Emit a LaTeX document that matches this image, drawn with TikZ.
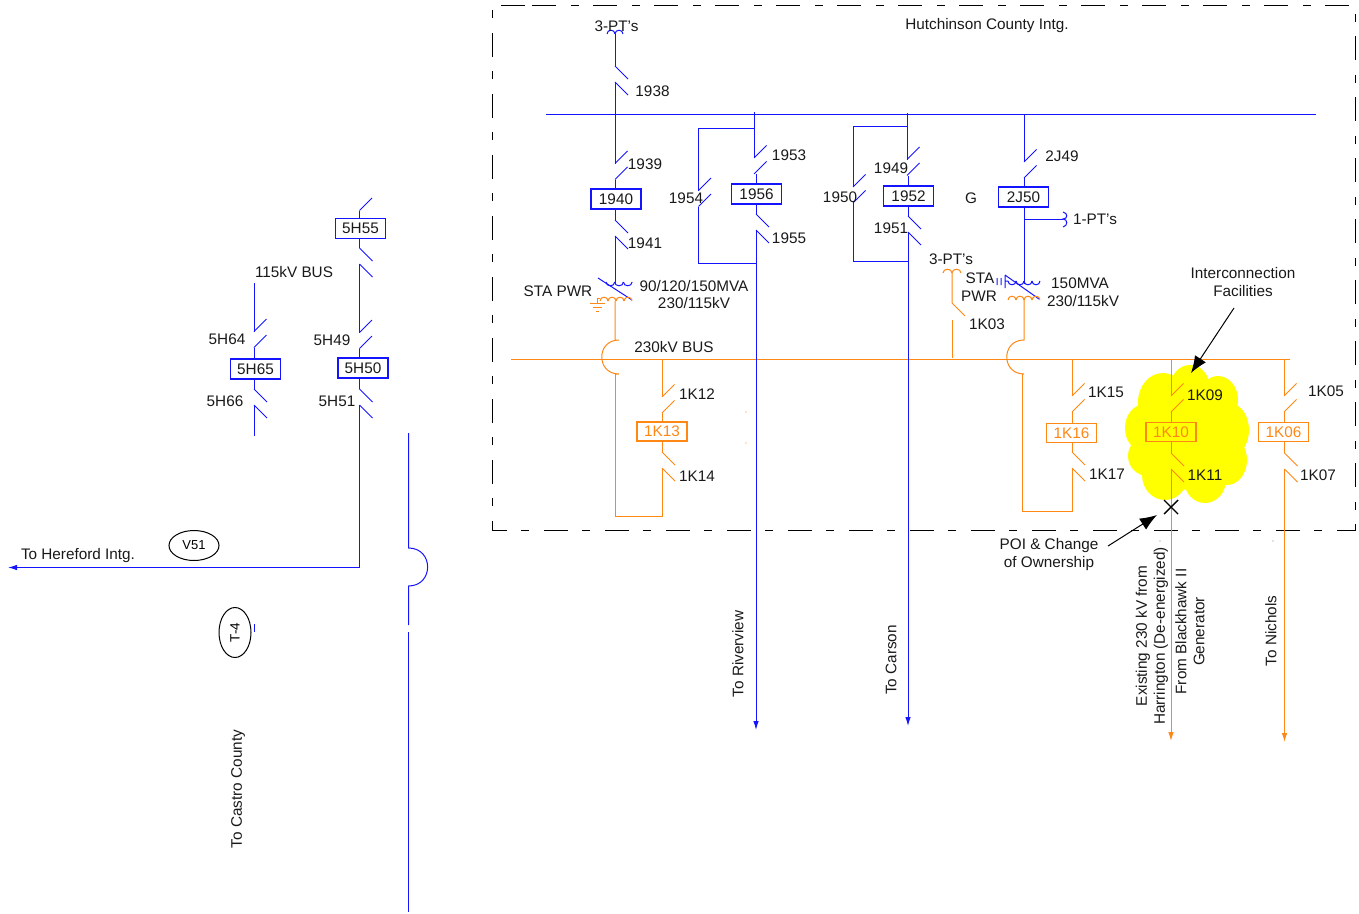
\documentclass[tikz,border=0pt]{standalone}
\usepackage{fontspec}
\setmainfont{Liberation Sans}
\usetikzlibrary{arrows.meta,shapes.geometric}
\definecolor{bl}{RGB}{20,20,255}
\definecolor{og}{RGB}{255,135,20}
\definecolor{yel}{RGB}{255,255,0}
\tikzset{
  bline/.style={draw=bl,line width=1pt},
  oline/.style={draw=og,line width=1pt},
  lbl/.style={inner sep=0pt,font=\fontsize{15.3}{17}\selectfont,text=black!90},
  bbox/.style={draw=bl,line width=1.1pt,minimum width=50pt,minimum height=20pt,inner sep=0pt,font=\fontsize{15.3}{17}\selectfont,text=black!90},
  obox/.style={draw=og,line width=1.1pt,minimum width=50pt,minimum height=19pt,inner sep=0pt,font=\fontsize{15.3}{17}\selectfont,text=og},
  barr/.style={-{Latex[length=9pt,width=5.5pt]}},
  karr/.style={draw=black,line width=1pt,-{Latex[length=17pt,width=13pt]}},
  ell/.style={draw=black,line width=1pt,ellipse,inner sep=0pt},
}
\newcommand{\swdown}[4]{\draw[#1] (#2,#3)--++(13,13);\draw[#1] (#2,#3+16)--++(13,13);\coordinate (#4) at (#2,#3+16);}
\newcommand{\swup}[4]{\draw[#1] (#2,#3)--++(12.5,-12.5);\draw[#1] (#2,#3+16)--++(12.5,-12.5);\coordinate (#4) at (#2,#3+16);}
\newcommand{\bumpsup}[5]{\foreach \i in {1,...,#4}{\draw[#1] (#2+\i*#5-#5,#3) .. controls (#2+\i*#5-#5,#3-5) and (#2+\i*#5,#3-5) .. (#2+\i*#5,#3);}}
\newcommand{\bumpsdown}[5]{\foreach \i in {1,...,#4}{\draw[#1] (#2+\i*#5-#5,#3) .. controls (#2+\i*#5-#5,#3+5) and (#2+\i*#5,#3+5) .. (#2+\i*#5,#3);}}
\begin{document}
\begin{tikzpicture}[x=1pt,y=-1pt]
\path[use as bounding box] (0,0) rectangle (1359,913);
% cloud
\fill[yel] (1190,385) ellipse (19 and 20) (1163,402) ellipse (25 and 29) (1218,400) ellipse (20 and 24)
 (1145,428) ellipse (20 and 24) (1231,430) ellipse (18 and 26) (1148,456) ellipse (20 and 20)
 (1165,475) ellipse (23 and 25) (1205,480) ellipse (21 and 23) (1227,460) ellipse (20 and 25)
 (1190,440) ellipse (48 and 50);
% boundary
\draw[black,line width=1pt,dash pattern=on 24pt off 15pt on 8pt off 14pt] (532,5)--(1355,5)--(1355,530)--(492,530)--(492,5)--(532,5);
% buses
\coordinate (bb1) at (546,114); \coordinate (bb2) at (1316,114);
\coordinate (ob1) at (511,359.5); \coordinate (ob2) at (1290,359.5);
\draw[bline] (bb1)--(bb2);
\draw[oline] (ob1)--(ob2);
% boxes
\node[bbox] (b1940) at (616,199) {1940};
\node[bbox] (b1956) at (756.5,194) {1956};
\node[bbox] (b1952) at (908.5,196) {1952};
\node[bbox] (b2J50) at (1023.5,197) {2J50};
\node[bbox] (b5H55) at (360.5,228.5) {5H55};
\node[bbox] (b5H50) at (363,368) {5H50};
\node[bbox] (b5H65) at (255.5,369) {5H65};
\node[obox] (b1K13) at (662,431.5) {1K13};
\node[obox] (b1K16) at (1071.5,433) {1K16};
\node[obox] (b1K10) at (1171,432) {1K10};
\node[obox] (b1K06) at (1283.5,432) {1K06};
% 1938-1941 column
\coordinate (pt1) at (615,34);
\bumpsup{bline}{607}{34}{2}{8}
\swdown{bline}{615}{66}{s1938}
\draw[bline] (pt1)--(615,66);
\swup{bline}{615}{163.5}{s1939}
\draw[bline] (s1938)--(615,163.5);
\draw[bline] (s1939)--(s1939|-b1940.north);
\swdown{bline}{615}{220}{s1941}
\draw[bline] (615,220)--(615,220|-b1940.south);
\draw[bline] (s1941)--(615,284);
\bumpsdown{bline}{606}{282}{3}{8.7}
\draw[bline] (598,278)--(632,300);
% transformer 1 lower
\bumpsup{oline}{600}{301}{4}{8}
\draw[oline] (597,298)--(597,303) (590,303)--(605,303) (593,307)--(602,307) (596,311)--(599,311);
\draw[oline] (597,298)--(600,298);
\coordinate (a1t) at (619,340); \coordinate (a1b) at (619,374);
\draw[oline] (615,301)--(615,340)--(a1t) .. controls (596,340) and (596,374) .. (a1b)--(615,374);
% 1K12-14
\swup{oline}{662}{397}{s1K12}
\draw[oline] (662,359)--(662,397);
\draw[oline] (s1K12)--(s1K12|-b1K13.north);
\swdown{oline}{662}{452}{s1K14}
\draw[oline] (662,452)--(662,452|-b1K13.south);
\draw[oline] (615,374)--(615,516)--(662,516)--(s1K14);
\fill[og] (746,412) circle (0.6) (746,443) circle (0.6);
% 1956 column
\swup{bline}{754}{158}{s1953}
\draw[bline] (754,112)--(754,158);
\draw[bline] (756,174)--(756,174|-b1956.north);
\swdown{bline}{756}{214}{s1955}
\draw[bline] (756,214)--(756,214|-b1956.south);
\draw[bline,barr] (s1955)--(756,730);
\swup{bline}{698.5}{190.5}{s1954}
\draw[bline] (754,128)--(698.5,128)--(698.5,190.5);
\draw[bline] (s1954)--(698.5,263)--(756,263);
% 1952 column
\swup{bline}{907}{159.5}{s1949}
\draw[bline] (907,113)--(907,159.5);
\draw[bline] (908,176)--(908,176|-b1952.north);
\swdown{bline}{908}{216}{s1951}
\draw[bline] (908,216)--(908,216|-b1952.south);
\draw[bline,barr] (s1951)--(908,726);
\swup{bline}{853}{187}{s1950}
\draw[bline] (907,126)--(853,126)--(853,187);
\draw[bline] (s1950)--(853,261)--(909,261);
% 2J column
\swup{bline}{1024}{162}{s2J49}
\draw[bline] (1024,114)--(1024,162);
\draw[bline] (s2J49)--(s2J49|-b2J50.north);
\draw[bline] (1024.5,207)--(1024.5,284);
\coordinate (brc) at (1063,219);
\draw[bline] (1024.5,219)--(brc);
\draw[bline] (1063,212) .. controls (1068,213) and (1068,219) .. (brc) .. controls (1068,219) and (1068,226) .. (1063,227);
\bumpsdown{bline}{1008}{281}{4}{8}
\draw[bline] (1005,275)--(1039,299) (1005,275)--(1005,288) (1005,281)--(1008,281) (997,278)--(997,285) (1001,278)--(1001,285);
\bumpsup{oline}{1008}{300}{4}{8}
\coordinate (a2t) at (1024,340); \coordinate (a2b) at (1024,374);
\draw[oline] (1024,300)--(a2t) .. controls (1001,340) and (1001,374) .. (a2b)--(1022,374);
% 3-PT's orange and 1K03
\bumpsup{oline}{943}{273}{2}{9}
\draw[oline] (952,273)--(952,303)--(965,316);
\draw[oline] (952,320)--(952,358);
% 1K15-17
\swup{oline}{1072}{396}{s1K15}
\draw[oline] (1072,359)--(1072,396);
\draw[oline] (s1K15)--(s1K15|-b1K16.north);
\swdown{oline}{1072}{452}{s1K17}
\draw[oline] (1072,452)--(1072,452|-b1K16.south);
\draw[oline] (1022,374)--(1022,511)--(1072,511)--(s1K17);
% 1K09-11
\swup{oline}{1171}{396}{s1K09}
\draw[oline] (1171,359)--(1171,396);
\draw[oline] (s1K09)--(s1K09|-b1K10.north);
\swdown{oline}{1171}{453}{s1K11}
\draw[oline] (1171,453)--(1171,453|-b1K10.south);
\draw[oline,barr] (s1K11)--(1171,741);
% 1K05-07
\swup{oline}{1284}{396}{s1K05}
\draw[oline] (1284,359)--(1284,396);
\draw[oline] (s1K05)--(s1K05|-b1K06.north);
\swdown{oline}{1284.5}{453}{s1K07}
\draw[oline] (1284.5,453)--(1284.5,453|-b1K06.south);
\draw[oline,barr] (s1K07)--(1284.5,742);
% X and pointers
\coordinate (xc) at (1171,507);
\draw[black,line width=1.4pt] (1164,500)--(1178,514) (1164,514)--(1178,500);
\coordinate (ic1) at (1234,308); \coordinate (ic2) at (1191,373);
\draw[karr] (ic1)--(ic2);
\coordinate (po1) at (1108,546); \coordinate (po2) at (1157,515);
\draw[karr] (po1)--(po2);
\fill[black!50] (1160,541) circle (0.6) (1273,541) circle (0.6);
% left side
\draw[bline] (359.5,210.5)--++(12.5,-12.5);
\draw[bline] (359.5,210.5)--(359.5,218.5);
\swdown{bline}{359.5}{248}{s5H55b}
\draw[bline] (359.5,238.5)--(359.5,248);
\swup{bline}{359.5}{332.5}{s5H49}
\draw[bline] (s5H55b)--(359.5,332.5);
\draw[bline] (s5H49)--(s5H49|-b5H50.north);
\swdown{bline}{359.5}{389}{s5H51}
\draw[bline] (359.5,389)--(359.5,389|-b5H50.south);
\draw[bline,barr] (s5H51)--(359.5,567.5)--(8,567.5);
\coordinate (l1) at (254,283);
\swup{bline}{254}{331.5}{s5H64}
\draw[bline] (l1)--(254,331.5);
\draw[bline] (s5H64)--(s5H64|-b5H65.north);
\swdown{bline}{254}{389}{s5H66}
\draw[bline] (254,389)--(254,389|-b5H65.south);
\draw[bline] (s5H66)--(254,436);
\draw[bline] (408.5,433)--(408.5,548) .. controls (434,548) and (434,586) .. (408.5,586)--(408.5,625);
\draw[bline] (408.5,632)--(408.5,912);
\draw[bline] (254,624)--(254,632);
\node[ell,minimum width=50pt,minimum height=30pt,font=\fontsize{13}{14}\selectfont] (v51) at (194,545.5) {V51};
\node[ell,minimum width=32pt,minimum height=50pt] (t4) at (235,632.5) {\rotatebox{90}{\fontsize{13.5}{14}\selectfont T-4}};
% labels
\node[lbl] (t1) at (616.5,26.5) {3-PT's};
\node[lbl] (t2) at (987,26) {Hutchinson County Intg.};
\node[lbl] (t3) at (652.5,91) {1938};
\node[lbl] (t4a) at (645,164) {1939};
\node[lbl] (t5) at (645,243) {1941};
\node[lbl] (t6) at (789,155) {1953};
\node[lbl] (t7) at (686,198) {1954};
\node[lbl] (t8) at (789,238) {1955};
\node[lbl] (t9) at (891,168) {1949};
\node[lbl] (t10) at (840,197) {1950};
\node[lbl] (t11) at (891,228) {1951};
\node[lbl] (t12) at (971,198) {G};
\node[lbl] (t13) at (1062,156) {2J49};
\node[lbl] (t14) at (1095,219.5) {1-PT's};
\node[lbl] (t15) at (951,259.5) {3-PT's};
\node[lbl] (t16) at (980,278) {STA};
\node[lbl] (t17) at (979,296) {PWR};
\node[lbl] (t18) at (987,324) {1K03};
\node[lbl] (t19) at (1080,283) {150MVA};
\node[lbl] (t20) at (1083,301) {230/115kV};
\node[lbl] (t21) at (694,286) {90/120/150MVA};
\node[lbl] (t22) at (694,303) {230/115kV};
\node[lbl] (t23) at (558,291) {STA PWR};
\node[lbl] (t24) at (674,347) {230kV BUS};
\node[lbl] (t25) at (697,394) {1K12};
\node[lbl] (t26) at (697,476) {1K14};
\node[lbl] (t27) at (1106,392) {1K15};
\node[lbl] (t28) at (1107,474) {1K17};
\node[lbl] (t29) at (1205,395) {1K09};
\node[lbl] (t30) at (1205,475) {1K11};
\node[lbl] (t31) at (1326,391) {1K05};
\node[lbl] (t32) at (1318,475) {1K07};
\node[lbl,align=center,font=\fontsize{15.3}{18}\selectfont] (t33) at (1243,282.5) {Interconnection\\Facilities};
\node[lbl,align=center,font=\fontsize{15.3}{18}\selectfont] (t34) at (1049,554.5) {POI \& Change\\of Ownership};
\node[lbl,rotate=90] (t35) at (738,654) {To Riverview};
\node[lbl,rotate=90] (t36) at (891,660) {To Carson};
\node[lbl,rotate=90,align=center,font=\fontsize{15.3}{18}\selectfont] (t37) at (1152,636) {Existing 230 kV from\\Harrington (De-energized)};
\node[lbl,rotate=90,align=center,font=\fontsize{15.3}{18}\selectfont] (t38) at (1190,631.5) {From Blackhawk II\\Generator};
\node[lbl,rotate=90] (t39) at (1271,631) {To Nichols};
\node[lbl,rotate=90] (t40) at (238,789) {To Castro County};
\node[lbl] (t41) at (294,272) {115kV BUS};
\node[lbl] (t42) at (227,339) {5H64};
\node[lbl] (t43) at (332,340) {5H49};
\node[lbl] (t44) at (225,401) {5H66};
\node[lbl] (t45) at (337,401) {5H51};
\node[lbl] (t46) at (78,556) {To Hereford Intg.};
\end{tikzpicture}
\end{document}
